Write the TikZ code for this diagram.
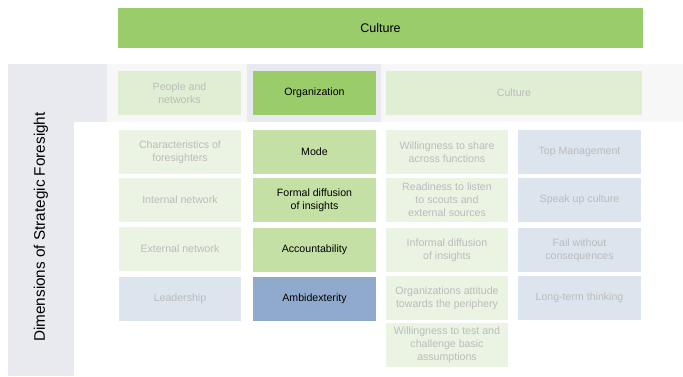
\documentclass[tikz,border=0pt]{standalone}
\usepackage{fontspec}
\setmainfont{Liberation Sans}
\usepackage{tikz}
\usetikzlibrary{shapes,positioning}

\definecolor{leaf}{RGB}{155,204,106}
\definecolor{leafmid}{RGB}{196,224,164}
\definecolor{leafpale}{RGB}{224,239,212}
\definecolor{leafwash}{RGB}{235,243,227}
\definecolor{slate}{RGB}{143,170,204}
\definecolor{slatepale}{RGB}{220,228,238}
\definecolor{panel}{RGB}{233,234,239}
\definecolor{band}{RGB}{247,247,247}
\definecolor{faded}{RGB}{188,188,188}

\tikzstyle{cell} = [rectangle, minimum width=123pt, minimum height=44pt, inner sep=0pt, align=center, font=\fontsize{10.6}{13}\selectfont]
\tikzstyle{strong} = [cell, text=black]
\tikzstyle{weak} = [cell, text=faded]

\begin{document}
\begin{tikzpicture}[x=1pt, y=-1pt]
        \useasboundingbox (0,0) rectangle (683,376);

        % grey bands behind the header row and the side label
        \fill[band] (8,64) rectangle (683,122);
        \fill[panel] (8,64) rectangle (107,122);
        \fill[panel] (8,122) rectangle (74,376);
        \fill[panel] (247,64) rectangle (381,122);

        \node (top) [cell, fill=leaf, minimum width=525pt, minimum height=40pt, font=\fontsize{12.5}{15}\selectfont] at (380.5,28) {Culture};

        \node (dim) [rotate=90, font=\fontsize{15.3}{18}\selectfont] at (41,227) {Dimensions of Strategic Foresight};

        \node (pn) [weak, fill=leafpale] at (179.5,93) {People and\\networks};
        \node (org) [strong, fill=leaf] at (314.5,93) {Organization};
        \node (cul) [weak, fill=leafpale, minimum width=256pt] at (514,93) {Culture};

        \node (11) [weak, fill=leafwash, minimum width=122pt] at (180,152) {Characteristics of\\foresighters};
        \node (12) [weak, fill=leafwash, minimum width=122pt] at (180,200) {Internal network};
        \node (13) [weak, fill=leafwash, minimum width=122pt] at (180,249) {External network};
        \node (14) [weak, fill=slatepale, minimum width=122pt] at (180,298.5) {Leadership};

        \node (21) [strong, fill=leafmid] at (314.5,152) {Mode};
        \node (22) [strong, fill=leafmid] at (314.5,200) {Formal diffusion\\of insights};
        \node (23) [strong, fill=leafmid] at (314.5,250) {Accountability};
        \node (24) [strong, fill=slate] at (314.5,299) {Ambidexterity};

        \node (31) [weak, fill=leafwash, minimum width=122pt] at (447,152) {Willingness to share\\across functions};
        \node (32) [weak, fill=leafwash, minimum width=122pt] at (447,200) {Readiness to listen\\to scouts and\\external sources};
        \node (33) [weak, fill=leafwash, minimum width=122pt] at (447,250) {Informal diffusion\\of insights};
        \node (34) [weak, fill=leafwash, minimum width=122pt] at (447,298) {Organizations attitude\\towards the periphery};
        \node (35) [weak, fill=leafwash, minimum width=122pt] at (447,345) {Willingness to test and\\challenge basic\\assumptions};

        \node (41) [weak, fill=slatepale] at (579.5,152) {Top Management};
        \node (42) [weak, fill=slatepale] at (579.5,200) {Speak up culture};
        \node (43) [weak, fill=slatepale] at (579.5,250) {Fail without\\consequences};
        \node (44) [weak, fill=slatepale] at (579.5,298) {Long-term thinking};

    \end{tikzpicture}
\end{document}
